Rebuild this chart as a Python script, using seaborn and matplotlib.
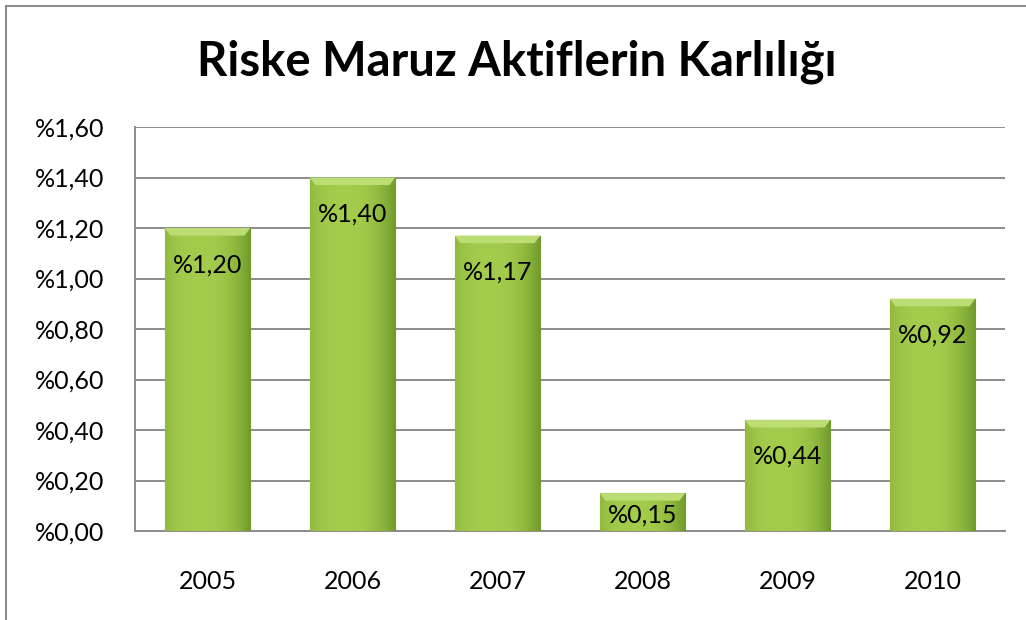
import numpy as np
import pandas as pd
import seaborn as sns
import matplotlib
matplotlib.use("Agg")
import matplotlib.pyplot as plt
from matplotlib.patches import Polygon
from matplotlib.colors import LinearSegmentedColormap

years = ["2005", "2006", "2007", "2008", "2009", "2010"]
values = [1.20, 1.40, 1.17, 0.15, 0.44, 0.92]
labels = ["%1,20", "%1,40", "%1,17", "%0,15", "%0,44", "%0,92"]
yticks = [0.0, 0.2, 0.4, 0.6, 0.8, 1.0, 1.2, 1.4, 1.6]
yticklabels = ["%0,00", "%0,20", "%0,40", "%0,60", "%0,80", "%1,00", "%1,20", "%1,40", "%1,60"]
title = "Riske Maruz Aktiflerin Karlılığı"

sns.set_theme(style="white")
plt.rcParams['font.family'] = ['Lato', 'DejaVu Sans']

fig = plt.figure(figsize=(10.26, 6.2), dpi=100)
ax = fig.add_axes([135/1026, 1-531/620, 870/1026, 404/620])

df = pd.DataFrame({"year": years, "value": values})
sns.barplot(data=df, x="year", y="value", color="#93bf40", width=0.59,
            saturation=1, ax=ax, zorder=3)

grad = np.linspace(0, 1, 256)
prof = 1 - (np.abs(grad - 0.4) / 0.6) ** 2.5
cmap = LinearSegmentedColormap.from_list("g", ["#6f9a2a", "#a4cc4c"])
for p in list(ax.patches):
    x0, y0 = p.get_x(), p.get_y()
    w, h = p.get_width(), p.get_height()
    img = np.tile(prof, (2, 1))
    im = ax.imshow(img, extent=[x0, x0 + w, y0, y0 + h], aspect="auto",
                   cmap=cmap, vmin=0, vmax=1, zorder=3.5, interpolation="bicubic")
    im.set_clip_path(p)
    bh = 0.03
    bw = 0.04
    top = y0 + h
    ax.add_patch(Polygon([(x0, top), (x0 + w, top), (x0 + w - bw, top - bh), (x0 + bw, top - bh)],
                         closed=True, color="#bcdc74", zorder=3.6, lw=0))
    p.set_edgecolor("#739e2e")
    p.set_linewidth(0.8)

ax.set_xlim(-0.5, 5.5)
ax.set_ylim(0, 1.6)
ax.set_yticks(yticks)
ax.set_yticklabels(yticklabels)
ax.set_xlabel("")
ax.set_ylabel("")
ax.tick_params(axis="both", labelsize=18, colors="black", length=0)
ax.tick_params(axis="y", pad=22)
ax.tick_params(axis="x", pad=28)
ax.grid(axis="y", color="#8c8c8c", linewidth=1.4, zorder=0)
ax.set_axisbelow(True)
for s in ["top", "right"]:
    ax.spines[s].set_visible(False)
for s in ["left", "bottom"]:
    ax.spines[s].set_color("#8c8c8c")
    ax.spines[s].set_linewidth(1.4)

for i, (v, lab) in enumerate(zip(values, labels)):
    ax.text(i, max(v - 0.145, 0.065), lab, ha="center", va="center", fontsize=18,
            color="black", zorder=5)

fig.text(517/1026, 1 - 62/620, title, ha="center", va="center",
         fontsize=34, fontweight="bold", color="black")

fig.add_artist(plt.Line2D([6/1026, 6/1026], [0, 1 - 6/620], color="#8c8c8c", lw=1.5))
fig.add_artist(plt.Line2D([6/1026, 1], [1 - 6/620, 1 - 6/620], color="#8c8c8c", lw=1.5))

fig.savefig("out.png", dpi=100)
